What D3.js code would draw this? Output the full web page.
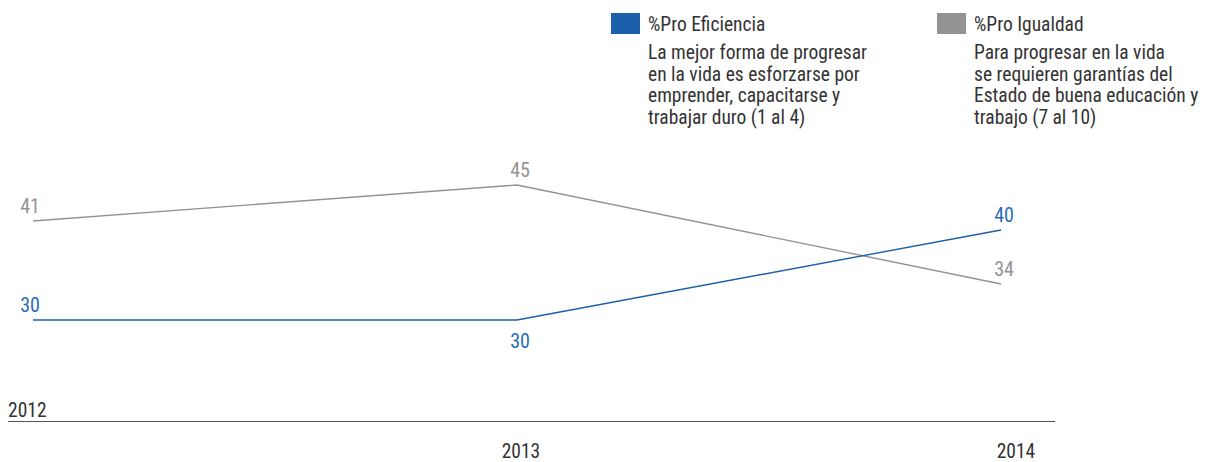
<!DOCTYPE html>
<meta charset="utf-8">
<style>
    body { margin: 0; background: #fff; }
    svg text {
        font-family: "Liberation Sans Narrow", "Roboto Condensed", "DejaVu Sans Condensed", sans-serif;
    }
    .legend-title { font-size: 19.5px; fill: #333; }
    .legend-desc { font-size: 19.5px; fill: #333; }
    .year { font-size: 19.5px; fill: #333; }
    .val { font-size: 20px; }
</style>
<body>
<svg id="chart" width="1221" height="462"></svg>
<script src="https://d3js.org/d3.v7.min.js"></script>
<script>
    var years = [2012, 2013, 2014];
    var eficiencia = [30, 30, 40];
    var igualdad = [41, 45, 34];
    var seriesNames = ["%Pro Eficiencia", "%Pro Igualdad"];
    var seriesDesc = [
        ["La mejor forma de progresar", "en la vida es esforzarse por", "emprender, capacitarse y", "trabajar duro (1 al 4)"],
        ["Para progresar en la vida", "se requieren garantías del", "Estado de buena educación y", "trabajo (7 al 10)"]
    ];

    var blue = "#1c5fab", blueText = "#2a6cb6", grey = "#939393";

    var svg = d3.select("#chart");

    var x = d3.scalePoint().domain(years).range([33, 1001]);
    var y = d3.scaleLinear().domain([30, 45]).range([320, 185]);

    var line = d3.line()
        .x(function(d, i) { return x(years[i]); })
        .y(function(d) { return y(d); });

    // axis line
    svg.append("line")
        .attr("x1", 8).attr("x2", 1055)
        .attr("y1", 421.5).attr("y2", 421.5)
        .attr("stroke", "#555").attr("stroke-width", 1.2);

    // year labels (odd placement as in the original)
    svg.selectAll(".year")
        .data(years)
        .enter().append("text")
        .attr("class", "year")
        .attr("x", function(d, i) { return i == 0 ? 8 : x(d) + (i == 1 ? 4 : 15); })
        .attr("y", function(d, i) { return i == 0 ? 417 : 458; })
        .attr("text-anchor", function(d, i) { return i == 0 ? "start" : "middle"; })
        .text(function(d) { return d; });

    var series = [
        { values: igualdad, color: grey, text: grey, above: [true, true, true] },
        { values: eficiencia, color: blue, text: blueText, above: [true, false, true] }
    ];

    series.forEach(function(s) {
        svg.append("path")
            .datum(s.values)
            .attr("d", line)
            .attr("fill", "none")
            .attr("stroke", s.color)
            .attr("stroke-width", 1.4);

        svg.selectAll(null)
            .data(s.values)
            .enter().append("text")
            .attr("class", "val")
            .attr("fill", s.text)
            .attr("text-anchor", "middle")
            .attr("x", function(d, i) { return x(years[i]) + (i == 0 ? -3 : 3); })
            .attr("y", function(d, i) { return s.above[i] ? y(d) - 8 : y(d) + 28; })
            .text(function(d) { return d; });
    });

    // legend
    var legendX = [611, 937];
    var legendColor = [blue, grey];
    seriesNames.forEach(function(name, k) {
        var g = svg.append("g").attr("transform", "translate(" + legendX[k] + ",0)");
        g.append("rect")
            .attr("x", 0).attr("y", 13)
            .attr("width", 29).attr("height", 21)
            .attr("fill", legendColor[k]);
        g.append("text")
            .attr("class", "legend-title")
            .attr("x", 37).attr("y", 31)
            .text(name);
        g.selectAll(".legend-desc")
            .data(seriesDesc[k])
            .enter().append("text")
            .attr("class", "legend-desc")
            .attr("x", 37)
            .attr("y", function(d, i) { return 59 + i * 21.5; })
            .text(function(d) { return d; });
    });
</script>
</body>
